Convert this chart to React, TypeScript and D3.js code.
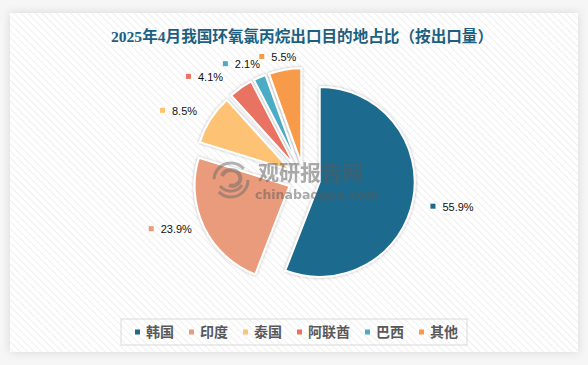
import React from "react";
import * as d3 from "d3";

const TITLE = "2025年4月我国环氧氯丙烷出口目的地占比（按出口量）";
const categories = ["韩国", "印度", "泰国", "阿联酋", "巴西", "其他"];
const shares = [55.9, 23.9, 8.5, 4.1, 2.1, 5.5];
const colors = ["#1c6a8d", "#e99b7c", "#fec274", "#e87363", "#4bacc6", "#f79b4b"];
// label nudges (dx, dy) for readability, like the spreadsheet's crowded-label placement
const labelNudge: [number, number][] = [[1, 3], [1, -8], [-2, 4], [-16, 8], [-4, 8], [-1, 10]];

const W = 588;
const H = 365;

export default function App() {
  const cx = 304;
  const cy = 179;
  const R = 95;
  const explode = 16;

  const pie = d3
    .pie<number>()
    .sort(null)
    .value((d) => d)
    .startAngle(0)
    .endAngle(2 * Math.PI);
  const arcs = pie(shares);
  const arcGen = d3.arc<d3.PieArcDatum<number>>().innerRadius(0).outerRadius(R);

  const labelR = 128;
  const labelFont = 11;
  const textW = (s: string) => {
    let w = 0;
    for (const ch of s) w += ch === "." ? 3.05 : ch === "%" ? 9.8 : 6.1;
    return w;
  };

  // legend
  const legFont = 14;
  const legItems = categories.map((c) => ({ c, tw: c.length * legFont }));
  const mk = 5;
  const gapMk = 6;
  const gapItem = 15;
  const contentW =
    legItems.reduce((s, it) => s + mk + gapMk + it.tw, 0) + gapItem * (legItems.length - 1);
  const boxPadL = 14;
  const boxPadR = 9;
  const boxW = contentW + boxPadL + boxPadR;
  const boxX = 121;
  const boxY = 319;
  const boxH = 26;
  let accX = boxX + boxPadL;
  const legPos = legItems.map((it) => {
    const x = accX;
    accX += mk + gapMk + it.tw + gapItem;
    return x;
  });

  return (
    <svg
      width={W}
      height={H}
      style={{ position: "absolute", left: 0, top: 0, display: "block" }}
      xmlns="http://www.w3.org/2000/svg"
    >
      <defs>
        <pattern id="hatch" patternUnits="userSpaceOnUse" width="5" height="5" patternTransform="rotate(-45)">
          <rect width="5" height="5" fill="#ffffff" />
          <line x1="0" y1="0" x2="0" y2="5" stroke="#ececec" strokeWidth="1.6" />
        </pattern>
        <filter id="cardShadow" x="-10%" y="-10%" width="120%" height="120%">
          <feDropShadow dx="0" dy="0" stdDeviation="5" floodColor="#000" floodOpacity="0.12" />
        </filter>
        <filter id="sliceShadow" x="-20%" y="-20%" width="140%" height="140%">
          <feDropShadow dx="0" dy="0" stdDeviation="1.8" floodColor="#000" floodOpacity="0.3" />
        </filter>
      </defs>
      <rect width={W} height={H} fill="#f6f6f6" />
      <rect x={10} y={13} width={568} height={339} fill="#ffffff" filter="url(#cardShadow)" />
      <rect x={10} y={13} width={568} height={339} fill="url(#hatch)" />

      <text
        x={302}
        y={42}
        textAnchor="middle"
        fontFamily="'Liberation Serif', 'Noto Sans CJK SC', serif"
        fontWeight="bold"
        fontSize={15.6}
        fill="#1c5f80"
      >
        {TITLE}
      </text>

      <g>
        {arcs.map((a, i) => {
          const mid = (a.startAngle + a.endAngle) / 2;
          const ox = Math.sin(mid) * explode;
          const oy = -Math.cos(mid) * explode;
          return (
            <path
              key={i}
              d={arcGen(a) || ""}
              transform={`translate(${cx + ox},${cy + oy})`}
              fill={colors[i]}
              stroke="#ffffff"
              strokeWidth={2}
              strokeLinejoin="round"
              filter="url(#sliceShadow)"
            />
          );
        })}
      </g>

      {/* watermark */}
      <g opacity={0.5} fill="#5a5a5a">
        <g transform="translate(231,180)" fill="none" stroke="#6a6a6a">
          <circle r={17} strokeWidth={3} strokeDasharray="40 14" />
          <path d="M-9,-4 C-6,-12 6,-12 9,-4 C11,2 4,8 -2,5" strokeWidth={4} />
          <path d="M-11,6 C-5,13 6,13 11,5" strokeWidth={3} />
        </g>
        <text x={258} y={180} fontFamily="'Noto Sans CJK SC', sans-serif" fontWeight="bold" fontSize={21}>
          观研报告网
        </text>
        <text x={255} y={199} fontFamily="'DejaVu Sans', sans-serif" fontWeight="bold" fontSize={12.5}>
          chinabaogao.com
        </text>
      </g>

      {/* data labels */}
      {arcs.map((a, i) => {
        const mid = (a.startAngle + a.endAngle) / 2;
        const dx = Math.sin(mid);
        const dy = -Math.cos(mid);
        const label = `${shares[i].toFixed(1)}%`;
        const w = mk + 7 + textW(label);
        const h = 12;
        const px = cx + dx * labelR + (dx * w) / 2 + labelNudge[i][0];
        const py = cy + dy * labelR + (dy * h) / 2 + labelNudge[i][1];
        const left = px - w / 2;
        return (
          <g key={i}>
            <rect x={left} y={py - 3} width={mk} height={mk} fill={colors[i]} />
            <text
              x={left + mk + 7}
              y={py}
              dy="0.35em"
              fontFamily="'Liberation Sans', 'Noto Sans', sans-serif"
              fontSize={labelFont}
              fill="#111111"
            >
              {label}
            </text>
          </g>
        );
      })}

      {/* legend */}
      <rect x={boxX} y={boxY} width={boxW} height={boxH} fill="none" stroke="#d9d9d9" strokeWidth={1} />
      {legItems.map((it, i) => (
        <g key={i}>
          <rect x={legPos[i]} y={boxY + boxH / 2 - 2.5} width={mk} height={mk} fill={colors[i]} />
          <text
            x={legPos[i] + mk + gapMk}
            y={boxY + boxH / 2}
            dy="0.35em"
            fontFamily="'Noto Sans CJK SC', sans-serif"
            fontWeight="bold"
            fontSize={legFont}
            fill="#595959"
          >
            {it.c}
          </text>
        </g>
      ))}
    </svg>
  );
}
